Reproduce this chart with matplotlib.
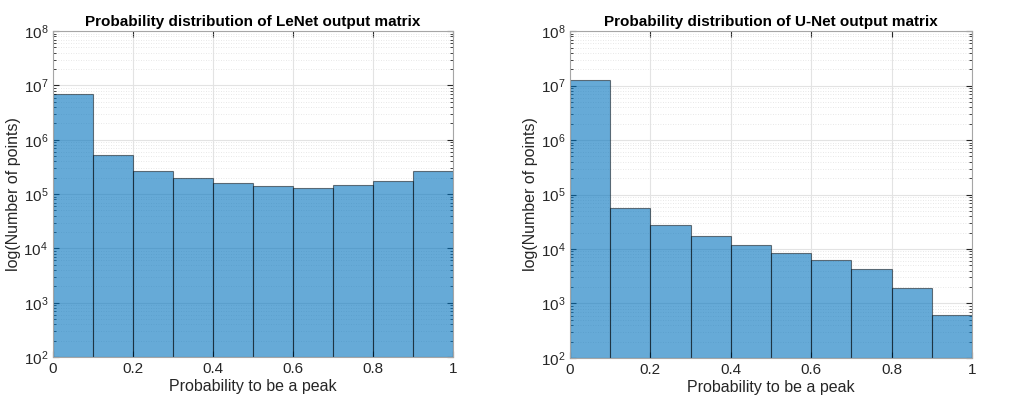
import numpy as np
import matplotlib
matplotlib.use("Agg")
import matplotlib.pyplot as plt

plt.rcParams["font.family"] = ["Liberation Sans", "DejaVu Sans"]

# 直方图的分箱边界
bin_edges = [0.0, 0.1, 0.2, 0.3, 0.4, 0.5, 0.6, 0.7, 0.8, 0.9, 1.0]
# 每个分箱里的点数
lenet_counts = [6.9e6, 5.3e5, 2.7e5, 1.94e5, 1.57e5, 1.38e5, 1.32e5, 1.44e5, 1.71e5, 2.7e5]
unet_counts = [1.27e7, 5.7e4, 2.7e4, 1.7e4, 1.15e4, 8.2e3, 6.3e3, 4.1e3, 1.86e3, 520]
titles = ["Probability distribution of LeNet output matrix",
          "Probability distribution of U-Net output matrix"]
x_ticks = [0, 0.2, 0.4, 0.6, 0.8, 1]
x_tick_labels = ["0", "0.2", "0.4", "0.6", "0.8", "1"]

fig = plt.figure(figsize=(10.11, 3.99), dpi=100)
ax1 = fig.add_axes([0.0524, 0.105, 0.3957, 0.817])
ax2 = fig.add_axes([0.5638, 0.103, 0.3976, 0.819])

axis_color = "#262626"
for ax, counts, title in zip([ax1, ax2], [lenet_counts, unet_counts], titles):
    lefts = np.array(bin_edges[:-1])
    widths = np.diff(bin_edges)
    ax.bar(lefts, counts, width=widths, align="edge", bottom=1e2,
           facecolor=(0.0, 0.447, 0.741, 0.6), edgecolor=(0.0, 0.0, 0.0, 0.5),
           linewidth=0.8, zorder=2)
    ax.set_yscale("log")
    ax.set_xlim(0, 1)
    ax.set_ylim(1e2, 1e8)
    ax.set_xticks(x_ticks)
    ax.set_xticklabels(x_tick_labels)
    ax.set_yticks([1e2, 1e3, 1e4, 1e5, 1e6, 1e7, 1e8])
    ax.grid(True, which="major", color="#e3e3e3", linewidth=0.8, zorder=0)
    ax.grid(True, which="minor", axis="y", color="#e0e0e0", linestyle=(0, (1, 2)), linewidth=0.6, zorder=0)
    ax.tick_params(which="both", direction="in", top=True, right=True,
                   colors=axis_color, labelsize=11, labelcolor=axis_color)
    ax.tick_params(which="major", length=4)
    ax.tick_params(which="minor", length=2)
    for sp in ax.spines.values():
        sp.set_color("#a6a6a6")
        sp.set_linewidth(0.8)
    ax.set_xlabel("Probability to be a peak", fontsize=11.5, color=axis_color, labelpad=2)
    ax.set_ylabel("log(Number of points)", fontsize=11.5, color=axis_color, labelpad=2)
    ax.set_title(title, fontsize=11, fontweight="bold", pad=4)

fig.savefig("out.png", dpi=100)
